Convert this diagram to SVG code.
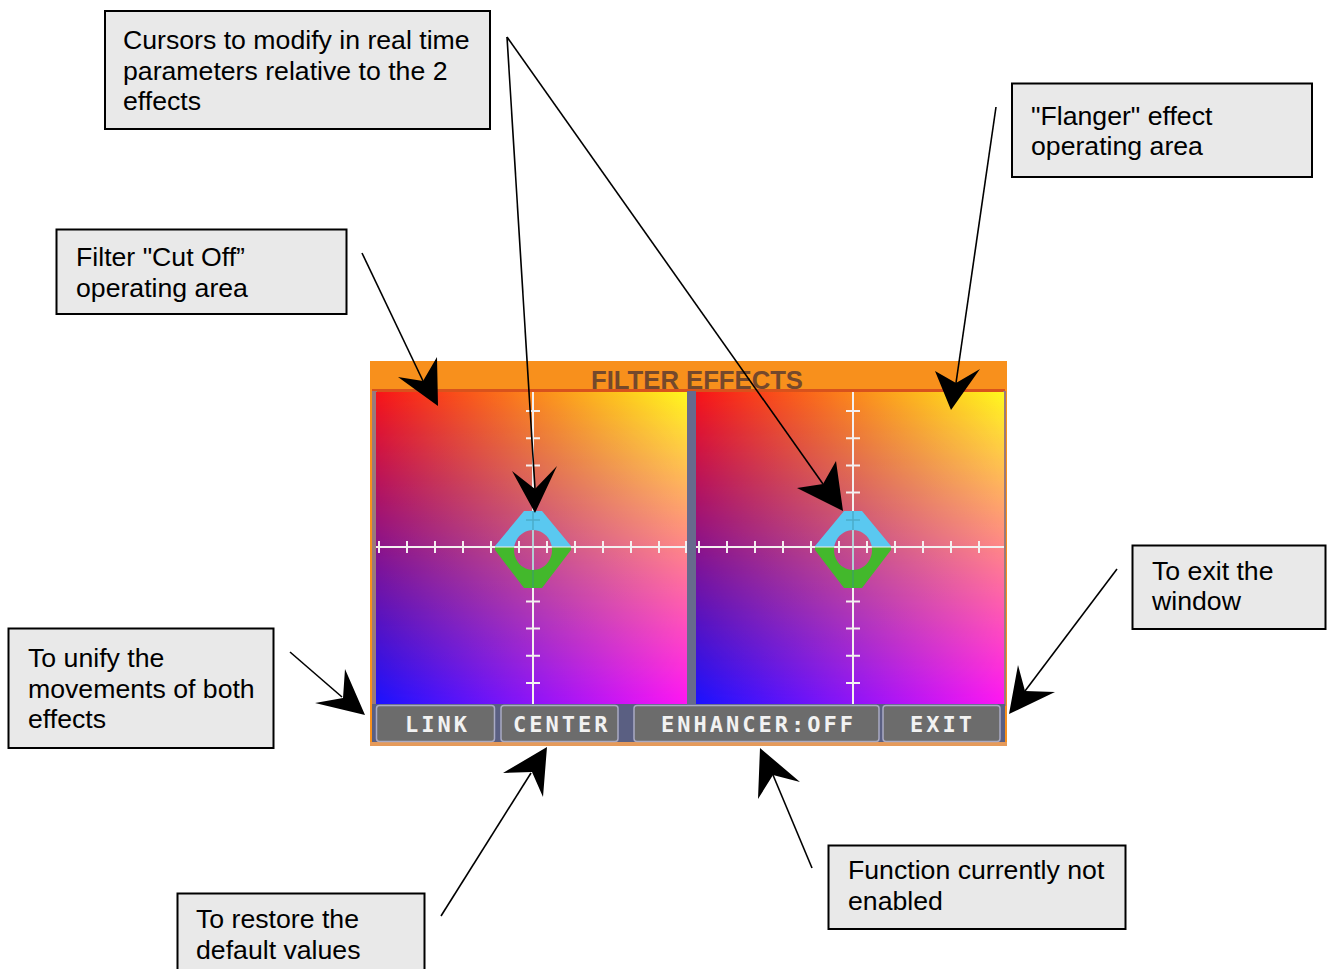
<svg xmlns="http://www.w3.org/2000/svg" xmlns:xlink="http://www.w3.org/1999/xlink" width="1327" height="969" viewBox="0 0 1327 969">
<style>
.box{fill:#e9e9e9;stroke:#000;stroke-width:2}
.lbl{font-family:"Liberation Sans",Arial,sans-serif;font-size:26.67px;fill:#000}
.btn{fill:#6c6c6c;stroke:#a9aac4;stroke-width:1.5}
.bt{font-family:"DejaVu Sans Mono","Liberation Mono",monospace;font-weight:bold;font-size:22px;fill:#f2f2f2;letter-spacing:3px}
.ax{stroke:#f4f0f0;stroke-width:2;fill:none}
.ln{stroke:#000;stroke-width:1.6;fill:none}
.ah{fill:#000}
</style>
<defs>
<linearGradient id="gTop" x1="0" y1="0" x2="1" y2="0">
<stop offset="0" stop-color="#f81418"/>
<stop offset="1" stop-color="#fff81e"/>
</linearGradient>
<linearGradient id="gBot" x1="0" y1="0" x2="1" y2="0">
<stop offset="0" stop-color="#1a12ff"/>
<stop offset="1" stop-color="#ff14f4"/>
</linearGradient>
<linearGradient id="gMask" x1="0" y1="0" x2="0" y2="1">
<stop offset="0" stop-color="#000"/>
<stop offset="1" stop-color="#fff"/>
</linearGradient>
<mask id="mV" maskContentUnits="objectBoundingBox">
<rect width="1" height="1" fill="url(#gMask)"/>
</mask>
<clipPath id="cTop"><rect x="-50" y="-50" width="100" height="50"/></clipPath>
<clipPath id="cBot"><rect x="-50" y="0" width="100" height="50"/></clipPath>
<path id="ring" fill-rule="evenodd" d="M-9,-36 L9,-36 L38,-1 L38,3 L9,41 L-9,41 L-38,3 L-38,-1 Z M0,-17 A19,20 0 1 0 0.01,-17 Z"/>
<g id="cursor">
<use xlink:href="#ring" fill="#5ac8f0" clip-path="url(#cTop)"/>
<use xlink:href="#ring" fill="#43b82c" clip-path="url(#cBot)"/>
<path d="M0,-36 V41 M-7,-27 H7" stroke="#3a8a9a" stroke-width="1.5" opacity="0.45"/>
</g>
</defs>

<g id="screen">
<rect x="370" y="361" width="637" height="385" fill="#f8901c"/>
<rect x="372" y="389" width="633" height="4" fill="#d8521c"/>
<rect x="372" y="391" width="5" height="315" fill="#9a7a7a"/>
<rect x="1003" y="391" width="3" height="315" fill="#9a7a7a"/>
<rect x="687" y="391" width="9" height="314" fill="#676a8c"/>
<rect x="376" y="392" width="311" height="312" fill="url(#gTop)"/>
<rect x="376" y="392" width="311" height="312" fill="url(#gBot)" mask="url(#mV)"/>
<rect x="696" y="392" width="308" height="312" fill="url(#gTop)"/>
<rect x="696" y="392" width="308" height="312" fill="url(#gBot)" mask="url(#mV)"/>
<rect x="372" y="704" width="633" height="39" fill="#5a5f82"/>
<rect x="370" y="742" width="637" height="4" fill="#e59a5a"/>
<text x="591" y="389" font-family="'Liberation Sans',Arial,sans-serif" font-weight="bold" font-size="26" fill="#74482c" textLength="212" lengthAdjust="spacingAndGlyphs">FILTER EFFECTS</text>
</g>

<g id="left-panel">
<path class="ax" d="M533,392 V704 M376,547 H687"/>
<path class="ax" d="M526,411 H540 M526,438.2 H540 M526,465.4 H540 M526,492.6 H540 M526,519.8 H540 M526,574.2 H540 M526,601.4 H540 M526,628.6 H540 M526,655.8 H540 M526,683 H540"/>
<path class="ax" d="M379,541 V553 M407,541 V553 M435,541 V553 M463,541 V553 M491,541 V553 M519,541 V553 M547,541 V553 M575,541 V553 M603,541 V553 M631,541 V553 M659,541 V553 M686,541 V553"/>
<use xlink:href="#cursor" transform="translate(533,547)"/>
<path d="M376,547 H687" stroke="#f4f0f0" stroke-width="2" opacity="0.5"/>
</g>

<g id="right-panel">
<path class="ax" d="M853,392 V704 M696,547 H1004"/>
<path class="ax" d="M846,411 H860 M846,438.2 H860 M846,465.4 H860 M846,492.6 H860 M846,519.8 H860 M846,574.2 H860 M846,601.4 H860 M846,628.6 H860 M846,655.8 H860 M846,683 H860"/>
<path class="ax" d="M699,541 V553 M727,541 V553 M755,541 V553 M783,541 V553 M811,541 V553 M839,541 V553 M867,541 V553 M895,541 V553 M923,541 V553 M951,541 V553 M979,541 V553"/>
<use xlink:href="#cursor" transform="translate(853,547)"/>
<path d="M696,547 H1004" stroke="#f4f0f0" stroke-width="2" opacity="0.5"/>
</g>

<g id="btn-link">
<rect class="btn" x="376.5" y="705.5" width="118" height="36" rx="3"/>
<text class="bt" x="405" y="732">LINK</text>
</g>
<g id="btn-center">
<rect class="btn" x="501" y="705.5" width="117" height="36" rx="3"/>
<text class="bt" x="513" y="732">CENTER</text>
</g>
<g id="btn-enhancer">
<rect class="btn" x="634" y="705.5" width="245" height="36" rx="3"/>
<text class="bt" x="661" y="732">ENHANCER:OFF</text>
</g>
<g id="btn-exit">
<rect class="btn" x="883" y="705.5" width="117" height="36" rx="3"/>
<text class="bt" x="910" y="732">EXIT</text>
</g>

<g id="connectors">
<path class="ln" d="M507,37 L535,489"/>
<polygon class="ah" points="535,513 512,471 535,489 557,466"/>
<path class="ln" d="M507,37 L823,484"/>
<polygon class="ah" points="843,511 797,488 823,484 836,461"/>
<path class="ln" d="M362,253 L423,381"/>
<polygon class="ah" points="438,406 398,377 423,381 437,357"/>
<path class="ln" d="M996,107 L956,383"/>
<polygon class="ah" points="951,410 935,371 956,383 980,369"/>
<path class="ln" d="M290,652 L342,697"/>
<polygon class="ah" points="365,715 315,703 343,698 345,669"/>
<path class="ln" d="M441,916 L531,773"/>
<polygon class="ah" points="547,747 503,773 532,772 543,797"/>
<path class="ln" d="M812,868 L773,775"/>
<polygon class="ah" points="760,748 800,782 773,775 758,799"/>
<path class="ln" d="M1117,569 L1025,691"/>
<polygon class="ah" points="1009,714 1018,665 1025,691 1055,692"/>
</g>

<g id="box-cursors">
<rect class="box" x="105" y="11" width="385" height="118"/>
<text class="lbl" x="123" y="49">Cursors to modify in real time</text>
<text class="lbl" x="123" y="79.5">parameters relative to the 2</text>
<text class="lbl" x="123" y="110">effects</text>
</g>
<g id="box-flanger">
<rect class="box" x="1012" y="83.5" width="300" height="93.5"/>
<text class="lbl" x="1031" y="124.5">"Flanger" effect</text>
<text class="lbl" x="1031" y="155">operating area</text>
</g>
<g id="box-cutoff">
<rect class="box" x="56.5" y="229.5" width="290" height="84.5"/>
<text class="lbl" x="76" y="266">Filter "Cut Off”</text>
<text class="lbl" x="76" y="296.5">operating area</text>
</g>
<g id="box-link">
<rect class="box" x="8.5" y="628.5" width="265" height="119.5"/>
<text class="lbl" x="28" y="667">To unify the</text>
<text class="lbl" x="28" y="697.5">movements of both</text>
<text class="lbl" x="28" y="728">effects</text>
</g>
<g id="box-exit">
<rect class="box" x="1132.5" y="545.5" width="193" height="83.5"/>
<text class="lbl" x="1152" y="580">To exit the</text>
<text class="lbl" x="1152" y="610">window</text>
</g>
<g id="box-enhancer">
<rect class="box" x="828.5" y="845.5" width="297" height="83.5"/>
<text class="lbl" x="848" y="879">Function currently not</text>
<text class="lbl" x="848" y="909.5">enabled</text>
</g>
<g id="box-center">
<rect class="box" x="177.5" y="893.5" width="247" height="90"/>
<text class="lbl" x="196" y="928">To restore the</text>
<text class="lbl" x="196" y="958.5">default values</text>
</g>
</svg>
